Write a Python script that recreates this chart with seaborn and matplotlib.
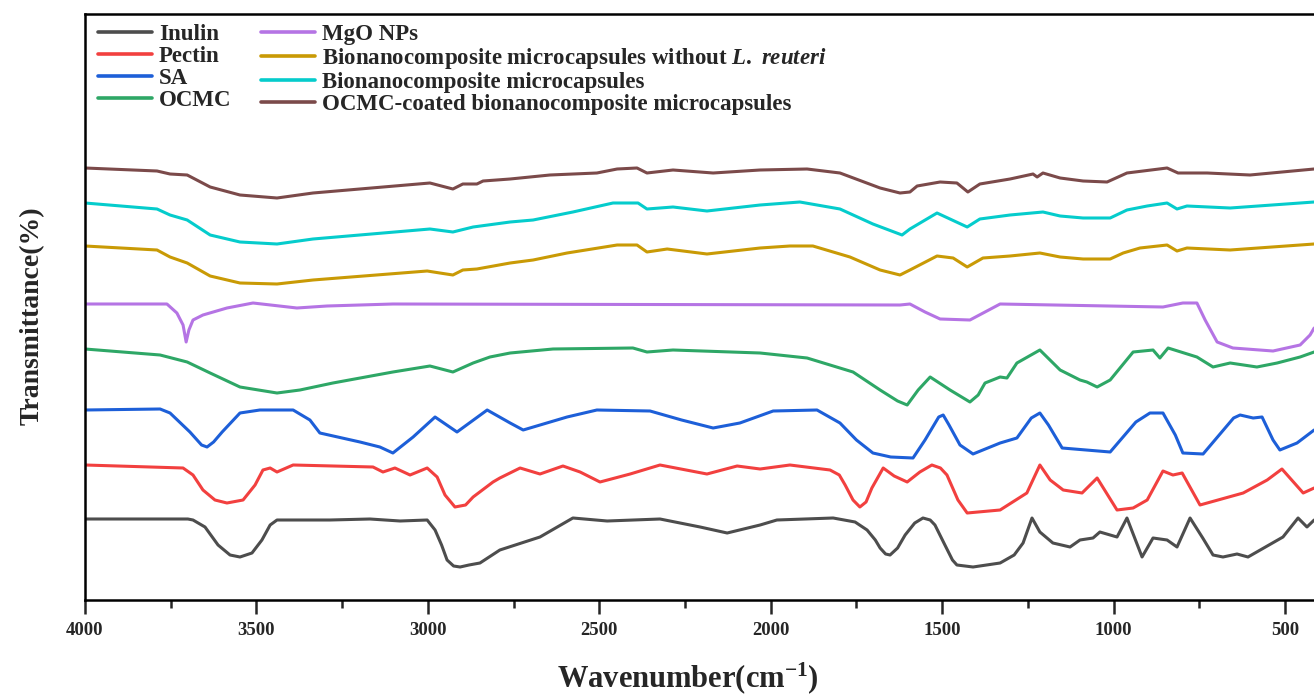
import matplotlib
matplotlib.use("Agg")
import matplotlib.pyplot as plt
import seaborn as sns
import pandas as pd
import numpy as np

# ---------------- data (wavenumber in cm-1, offset transmittance in a.u.) ----------------
inulin_w = [4000, 3700, 3685, 3650, 3612, 3577, 3548, 3513, 3484, 3460, 3440, 3285, 3169, 3081, 3002,
            2979, 2960, 2944, 2925, 2906, 2880, 2848, 2790, 2673, 2577, 2477, 2323, 2206, 2127, 2031,
            1982, 1818, 1754, 1719, 1695, 1681, 1665, 1652, 1630, 1608, 1580, 1556, 1535, 1521, 1492,
            1470, 1457, 1410, 1331, 1290, 1264, 1238, 1215, 1177, 1127, 1098, 1060, 1040, 990, 961,
            917, 885, 844, 815, 777, 740, 710, 681, 640, 608, 506, 462, 436, 415]
inulin_t = [81, 81, 80, 73, 55, 45, 43, 47, 60, 75, 80, 80, 81, 79, 80,
            70, 55, 40, 34, 33, 35, 37, 50, 63, 82, 79, 81, 73, 67, 75,
            80, 82, 78, 70, 60, 52, 46, 45, 52, 65, 77, 82, 80, 75, 55,
            40, 35, 33, 37, 45, 57, 82, 68, 57, 53, 60, 62, 68, 63, 82,
            43, 62, 60, 53, 82, 62, 45, 43, 46, 43, 63, 82, 73, 80]

pectin_w = [4000, 3714, 3685, 3656, 3621, 3586, 3539, 3504, 3481, 3460, 3440, 3393, 3160, 3131, 3096,
            3052, 3002, 2973, 2950, 2921, 2890, 2868, 2810, 2790, 2731, 2673, 2606, 2556, 2498, 2410,
            2323, 2186, 2098, 2031, 1944, 1827, 1800, 1783, 1760, 1740, 1722, 1705, 1672, 1640, 1602,
            1565, 1530, 1505, 1486, 1454, 1427, 1331, 1253, 1215, 1185, 1147, 1092, 1048, 990, 943,
            902, 856, 827, 800, 748, 622, 552, 509, 447, 415]
pectin_t = [135, 132, 125, 110, 100, 97, 100, 115, 130, 132, 128, 135, 133, 128, 132,
            125, 132, 123, 105, 93, 95, 103, 118, 122, 132, 126, 134, 128, 118, 126,
            135, 126, 134, 131, 135, 130, 125, 115, 100, 93, 98, 112, 132, 124, 118,
            128, 135, 132, 125, 100, 87, 90, 107, 135, 120, 110, 107, 122, 90, 92,
            100, 129, 125, 127, 95, 107, 120, 131, 107, 112]

sa_w = [4000, 3781, 3752, 3694, 3660, 3644, 3625, 3600, 3548, 3490, 3393, 3344, 3315, 3198, 3140,
        3102, 3043, 2979, 2915, 2827, 2760, 2722, 2594, 2507, 2352, 2260, 2168, 2090, 1993, 1865,
        1798, 1750, 1702, 1650, 1585, 1550, 1510, 1497, 1480, 1448, 1410, 1331, 1282, 1240, 1215,
        1190, 1150, 1010, 935, 894, 856, 820, 798, 739, 650, 631, 593, 567, 535, 515, 465, 415]
sa_t = [190, 191, 187, 168, 155, 153, 158, 168, 187, 190, 190, 180, 167, 158, 153,
        147, 163, 183, 168, 190, 177, 170, 183, 190, 189, 180, 172, 177, 189, 190,
        177, 160, 147, 143, 142, 160, 183, 185, 175, 155, 146, 157, 162, 182, 187,
        175, 152, 148, 178, 187, 187, 165, 147, 146, 182, 185, 182, 183, 160, 150, 157, 170]

ocmc_w = [4000, 3781, 3702, 3635, 3548, 3440, 3373, 3277, 3102, 2994, 2927, 2868, 2819, 2760, 2635,
          2402, 2361, 2285, 2031, 1894, 1760, 1681, 1630, 1602, 1570, 1535, 1477, 1419, 1395, 1375,
          1331, 1311, 1282, 1215, 1156, 1098, 1078, 1048, 1010, 943, 885, 865, 841, 757, 710, 660,
          582, 523, 456, 415]
ocmc_t = [251, 245, 238, 227, 213, 207, 210, 217, 228, 234, 228, 237, 243, 247, 251,
          252, 248, 250, 247, 242, 228, 210, 199, 195, 210, 223, 210, 198, 205, 217,
          223, 222, 237, 250, 230, 220, 218, 213, 220, 248, 250, 242, 252, 243, 233, 237,
          233, 237, 243, 248]

mgo_w = [4000, 3761, 3732, 3714, 3705, 3697, 3685, 3656, 3586, 3510, 3382, 3294, 3102, 1623, 1594,
         1550, 1506, 1419, 1375, 1331, 856, 798, 757, 733, 698, 652, 535, 456, 427, 415]
mgo_t = [296, 296, 287, 275, 258, 270, 280, 285, 292, 297, 292, 294, 296, 295, 296,
         288, 281, 280, 288, 296, 293, 297, 297, 280, 258, 252, 249, 255, 265, 272]

bnc_wo_w = [4000, 3790, 3752, 3702, 3635, 3548, 3440, 3335, 3002, 2965, 2927, 2898, 2857, 2760, 2693,
            2594, 2448, 2390, 2361, 2302, 2186, 2031, 1944, 1877, 1769, 1681, 1623, 1594, 1515, 1468,
            1427, 1381, 1302, 1215, 1156, 1089, 1010, 972, 923, 844, 815, 786, 660, 415]
bnc_wo_t = [354, 350, 343, 337, 324, 317, 316, 320, 329, 327, 325, 330, 331, 337, 340,
            347, 355, 355, 348, 351, 346, 352, 354, 354, 343, 330, 325, 330, 344, 342,
            333, 342, 344, 347, 343, 341, 341, 347, 352, 355, 349, 352, 350, 356]

bnc_w = [4000, 3790, 3752, 3702, 3635, 3548, 3440, 3335, 2994, 2927, 2868, 2760, 2693, 2577, 2460,
         2387, 2361, 2285, 2186, 2031, 1915, 1798, 1702, 1617, 1594, 1515, 1427, 1390, 1302, 1206,
         1156, 1089, 1010, 961, 902, 844, 815, 786, 660, 415]
bnc_t = [397, 391, 385, 380, 365, 358, 356, 361, 371, 368, 373, 378, 380, 388, 397,
         397, 391, 393, 389, 395, 398, 391, 376, 365, 371, 387, 373, 381, 385, 388,
         384, 382, 382, 390, 394, 397, 391, 394, 392, 398]

coated_w = [4000, 3790, 3752, 3702, 3635, 3548, 3440, 3335, 2994, 2927, 2898, 2857, 2839, 2760, 2644,
            2507, 2448, 2390, 2361, 2285, 2168, 2031, 1894, 1798, 1681, 1623, 1594, 1573, 1506, 1457,
            1425, 1390, 1302, 1235, 1223, 1206, 1156, 1089, 1019, 961, 914, 844, 812, 727, 602, 415]
coated_t = [432, 429, 426, 425, 413, 405, 402, 407, 417, 411, 416, 416, 419, 421, 425,
            427, 431, 432, 427, 430, 427, 430, 431, 427, 412, 407, 408, 414, 418, 417,
            408, 416, 421, 426, 423, 427, 422, 419, 418, 427, 429, 432, 427, 427, 425, 431]

labels = ["Inulin", "Pectin", "SA", "OCMC", "MgO NPs",
          r"Bionanocomposite microcapsules without $\mathit{L.\ reuteri}$",
          "Bionanocomposite microcapsules",
          "OCMC-coated bionanocomposite microcapsules"]
colors = ["#4d4d4d", "#f2403f", "#1d5fd8", "#2ea766", "#b574e4", "#c99a05", "#05cccc", "#7b4a4a"]
xticks = [4000, 3500, 3000, 2500, 2000, 1500, 1000, 500]
xminor = [3750, 3250, 2750, 2250, 1750, 1250, 750]

series_w = [inulin_w, pectin_w, sa_w, ocmc_w, mgo_w, bnc_wo_w, bnc_w, coated_w]
series_t = [inulin_t, pectin_t, sa_t, ocmc_t, mgo_t, bnc_wo_t, bnc_t, coated_t]

frames = []
for lab, w, t in zip(labels, series_w, series_t):
    frames.append(pd.DataFrame({"Wavenumber": w, "T": t, "Sample": lab}))
df = pd.concat(frames, ignore_index=True)

# ---------------- style ----------------
sns.set_theme(style="ticks")
plt.rcParams["font.family"] = ["Liberation Serif", "DejaVu Serif"]
plt.rcParams["font.weight"] = "bold"
plt.rcParams["mathtext.fontset"] = "custom"
plt.rcParams["mathtext.rm"] = "Liberation Serif:bold"
plt.rcParams["mathtext.bf"] = "Liberation Serif:bold"
plt.rcParams["mathtext.it"] = "Liberation Serif:bold:italic"

W, H = 1314, 697
fig = plt.figure(figsize=(W / 100, H / 100), dpi=100)
left_px, right_px, top_px, bot_px = 85, 1353.6, 14, 600
axw = right_px - left_px
axh = bot_px - top_px
ax = fig.add_axes([left_px / W, (H - bot_px) / H, axw / W, axh / H])

sns.lineplot(data=df, x="Wavenumber", y="T", hue="Sample", hue_order=labels,
             palette=dict(zip(labels, colors)), sort=False, estimator=None,
             units="Sample", linewidth=2.2, ax=ax, legend=False)

ax.set_xlim(4000, 300)
ax.set_ylim(0, 586)
ax.set_xticks(xticks)
ax.set_xticklabels([str(v) for v in xticks], fontsize=13.5, fontweight="bold")
ax.set_xticks(xminor, minor=True)
ax.tick_params(axis="x", which="major", direction="out", length=10, width=1.8, pad=6)
ax.tick_params(axis="x", which="minor", direction="out", length=6, width=1.8)
ax.set_yticks([])
for s in ["left", "bottom", "top", "right"]:
    ax.spines[s].set_linewidth(1.8)
    ax.spines[s].set_color("black")

ax.set_xlabel(r"Wavenumber(cm$^{\mathbf{-1}}$)", fontsize=22, fontweight="bold")
ax.xaxis.set_label_coords((688 - left_px) / axw, -(660 - bot_px) / axh)
ax.set_ylabel("Transmittance(%)", fontsize=20, fontweight="bold")
ax.yaxis.set_label_coords(-(left_px - 45) / axw, (bot_px - 316) / axh)

handles = [plt.Line2D([], [], color=c, linewidth=2.6) for c in colors]
leg = ax.legend(handles, labels, ncol=2, loc="upper left", bbox_to_anchor=(0.003, 1.0),
                frameon=False, fontsize=16.5, handlelength=2.35, handletextpad=0.3,
                columnspacing=1.3, labelspacing=0.05, borderaxespad=0.0, borderpad=0.42)
for txt in leg.get_texts():
    txt.set_fontweight("bold")

fig.savefig("out.png", dpi=100)
